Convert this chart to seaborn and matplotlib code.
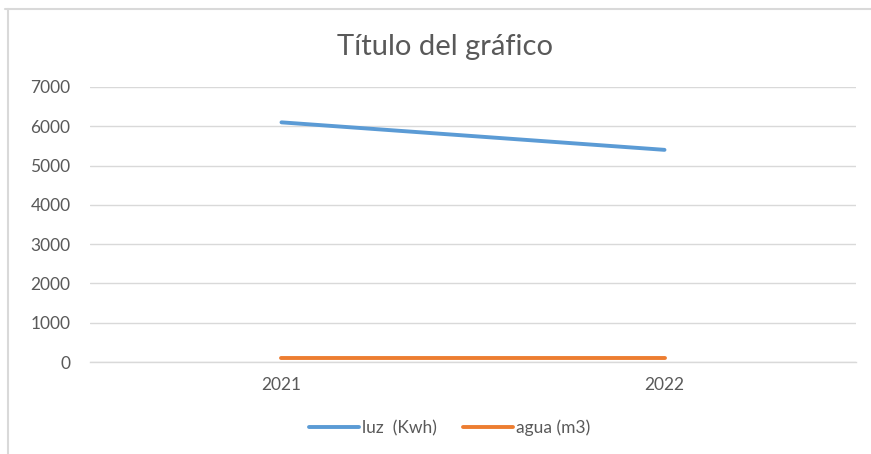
import matplotlib
matplotlib.use("Agg")
import matplotlib.pyplot as plt
import pandas as pd
import seaborn as sns
from matplotlib.lines import Line2D

# data
years = ["2021", "2022"]
luz_kwh = [6100, 5400]
agua_m3 = [90, 90]
series_names = ["luz  (Kwh)", "agua (m3)"]

df = pd.DataFrame({
    "year": years * 2,
    "value": luz_kwh + agua_m3,
    "serie": [series_names[0]] * len(years) + [series_names[1]] * len(years),
})

sns.set_theme(style="white")
plt.rcParams["font.family"] = ["Lato", "DejaVu Sans"]

grey_text = "#595959"
grid_col = "#d9d9d9"

fig = plt.figure(figsize=(8.71, 4.54), dpi=100)
ax = fig.add_axes([0.1033, 0.2026, 0.8795, 0.6058])

sns.lineplot(data=df, x="year", y="value", hue="serie", sort=False,
             palette=["#5B9BD5", "#ED7D31"], linewidth=2.8, ax=ax,
             legend=False, solid_capstyle="round")

ax.set_xlim(-0.5, 1.5)
ax.set_ylim(0, 7000)
ax.set_yticks(range(0, 7001, 1000))
ax.grid(axis="y", color=grid_col, linewidth=1)
ax.set_axisbelow(True)
for s in ["top", "right", "left"]:
    ax.spines[s].set_visible(False)
ax.spines["bottom"].set_color(grid_col)
ax.spines["bottom"].set_linewidth(1)
ax.set_xlabel("")
ax.set_ylabel("")
ax.tick_params(axis="y", length=0, pad=14, labelsize=12.5, labelcolor=grey_text)
ax.tick_params(axis="x", length=0, pad=11, labelsize=12.5, labelcolor=grey_text)

# title
fig.text(0.511, 0.897, "Título del gráfico", ha="center", va="center",
         fontsize=21, color=grey_text)

# legend at the bottom
handles = [Line2D([], [], color="#5B9BD5", linewidth=2.8, solid_capstyle="round"),
           Line2D([], [], color="#ED7D31", linewidth=2.8, solid_capstyle="round")]
fig.legend(handles, series_names, loc="center", bbox_to_anchor=(0.516, 0.057),
           ncol=2, frameon=False, handlelength=2.9, handletextpad=0.15,
           columnspacing=1.5, labelcolor=grey_text, fontsize=12.5)

# chart frame (top and left edges visible)
fig.add_artist(Line2D([5 / 871, 1], [1 - 9 / 454, 1 - 9 / 454],
                      transform=fig.transFigure, color=grid_col, linewidth=1.5))
fig.add_artist(Line2D([8 / 871, 8 / 871], [0, 1 - 9 / 454],
                      transform=fig.transFigure, color=grid_col, linewidth=1.5))

fig.savefig("out.png", dpi=100, facecolor="white")
